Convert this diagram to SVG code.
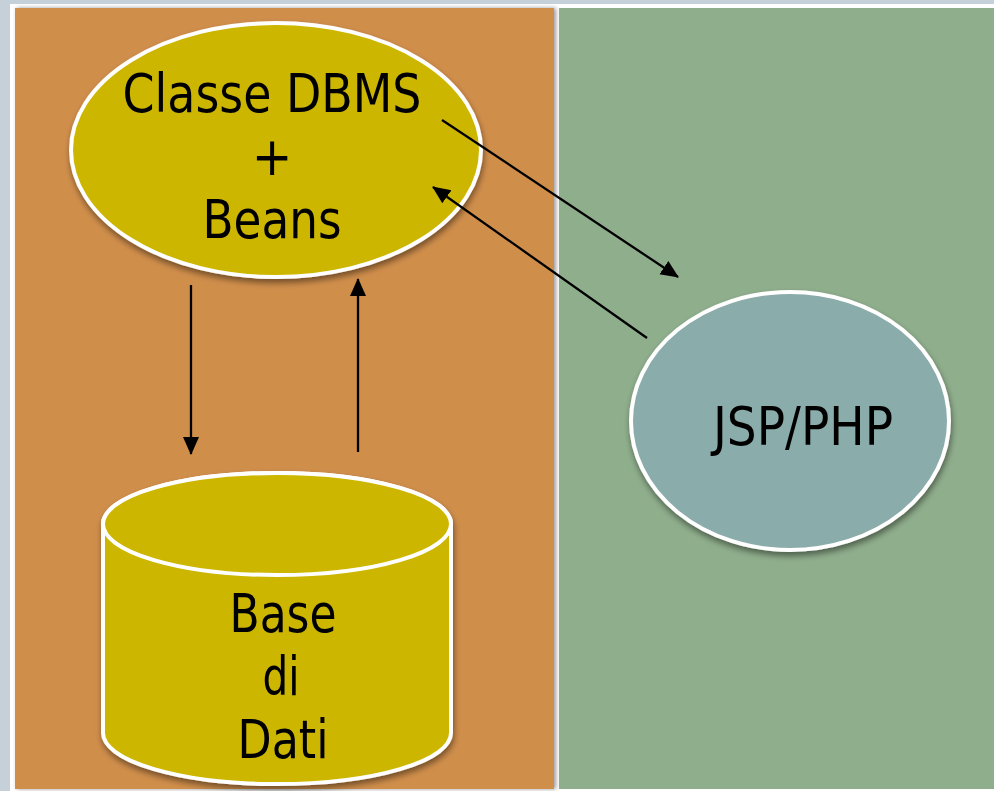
<svg xmlns="http://www.w3.org/2000/svg" width="994" height="791" viewBox="0 0 994 791">
<defs>
<style>
.shape{stroke:#ffffff;stroke-width:4;filter:url(#sh)}
.lbl{font-family:"DejaVu Sans Condensed","DejaVu Sans",sans-serif;font-size:54px;fill:#000;text-anchor:middle}
.conn{stroke:#000;stroke-width:2.3;fill:none;marker-end:url(#ah)}
</style>
<filter id="sh" x="-10%" y="-10%" width="120%" height="125%">
<feGaussianBlur in="SourceAlpha" stdDeviation="3"/>
<feOffset dx="1" dy="4" result="b"/>
<feComponentTransfer><feFuncA type="linear" slope="0.45"/></feComponentTransfer>
<feMerge><feMergeNode/><feMergeNode in="SourceGraphic"/></feMerge>
</filter>
<filter id="psh" x="-5%" y="-5%" width="110%" height="110%">
<feGaussianBlur in="SourceAlpha" stdDeviation="2"/>
<feOffset dx="2" dy="0"/>
<feComponentTransfer><feFuncA type="linear" slope="0.4"/></feComponentTransfer>
<feMerge><feMergeNode/><feMergeNode in="SourceGraphic"/></feMerge>
</filter>
<marker id="ah" markerWidth="18" markerHeight="18" viewBox="0 0 18 18" refX="17" refY="9" orient="auto" markerUnits="userSpaceOnUse">
<path d="M0,1 L18,9 L0,17 Z" fill="#000"/>
</marker>
</defs>
<rect x="0" y="0" width="994" height="791" fill="#c6d0d8"/>
<rect x="10" y="4" width="984" height="787" fill="#ffffff"/>
<g id="panel-left"><rect x="15" y="8" width="539" height="781" fill="#d08e4b" filter="url(#psh)"/></g>
<g id="panel-right"><rect x="559" y="8" width="435" height="781" fill="#8fae8c"/></g>
<g id="dbms">
<ellipse class="shape" cx="276" cy="150" rx="205" ry="127" fill="#cdb600"/>
<text class="lbl" x="272" y="112" textLength="299" lengthAdjust="spacingAndGlyphs">Classe DBMS</text>
<text class="lbl" x="272" y="175">+</text>
<text class="lbl" x="272" y="238" textLength="139" lengthAdjust="spacingAndGlyphs">Beans</text>
</g>
<g id="jsp">
<ellipse class="shape" cx="790" cy="421" rx="159" ry="129" fill="#8aacaa"/>
<text class="lbl" x="803" y="445" textLength="180" lengthAdjust="spacingAndGlyphs">JSP/PHP</text>
</g>
<g id="db">
<path class="shape" d="M103,524 L103,733 A174,51 0 0 0 451,733 L451,524 A174,51 0 0 0 103,524 Z" fill="#cdb600"/>
<ellipse cx="277" cy="524" rx="174" ry="51" fill="#cdb600" stroke="#fff" stroke-width="4"/>
<text class="lbl" x="283" y="632" textLength="107" lengthAdjust="spacingAndGlyphs">Base</text>
<text class="lbl" x="281" y="695" textLength="37" lengthAdjust="spacingAndGlyphs">di</text>
<text class="lbl" x="283" y="758" textLength="91" lengthAdjust="spacingAndGlyphs">Dati</text>
</g>
<g id="connectors">
<line class="conn" x1="442" y1="120" x2="678" y2="277"/>
<line class="conn" x1="647" y1="338" x2="433" y2="187"/>
<line class="conn" x1="191" y1="285" x2="191" y2="454"/>
<line class="conn" x1="358" y1="452" x2="358" y2="279"/>
</g>
</svg>
